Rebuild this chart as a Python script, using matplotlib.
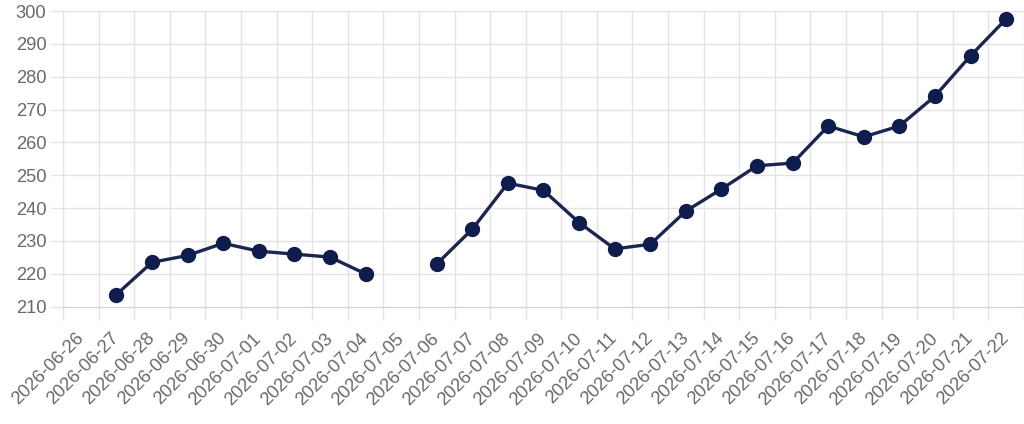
import numpy as np
import matplotlib
matplotlib.use("Agg")
import matplotlib.pyplot as plt

dates = ["2026-06-26", "2026-06-27", "2026-06-28", "2026-06-29", "2026-06-30",
         "2026-07-01", "2026-07-02", "2026-07-03", "2026-07-04", "2026-07-05",
         "2026-07-06", "2026-07-07", "2026-07-08", "2026-07-09", "2026-07-10",
         "2026-07-11", "2026-07-12", "2026-07-13", "2026-07-14", "2026-07-15",
         "2026-07-16", "2026-07-17", "2026-07-18", "2026-07-19", "2026-07-20",
         "2026-07-21", "2026-07-22"]
# None = no value for that day (gap in line)
values = [None, 213.7, 223.5, 225.6, 229.3,
          226.9, 226.0, 225.1, 220.0, None,
          223.0, 233.6, 247.6, 245.4, 235.6,
          227.6, 229.0, 239.1, 245.8, 252.9,
          253.7, 265.0, 261.7, 265.0, 274.1,
          286.4, 297.6]

plt.rcParams["font.family"] = ["Liberation Sans", "DejaVu Sans"]

y = np.array([np.nan if v is None else v for v in values])
x = np.arange(len(dates))

grid_col = "#e3e3e3"
text_col = "#6a6a6a"

fig = plt.figure(figsize=(10.24, 4.24), dpi=100)
ax = fig.add_axes([63 / 1024, 1 - 306.7 / 424, 1 - 63 / 1024, (306.7 - 11) / 424])

ax.plot(x, y, color="#1b2550", linewidth=2.4, marker="o", markersize=10,
        markerfacecolor="#0f1d4d", markeredgecolor="#0f1d4d", zorder=3,
        solid_capstyle="round")

ax.set_xlim(-0.5, len(dates) - 0.5)
ax.set_ylim(210, 300)
ax.set_yticks(np.arange(210, 301, 10))

# category centres carry the labels, boundaries carry the grid lines
ax.set_xticks(x)
ax.set_xticklabels(dates, rotation=45, ha="right", va="center", rotation_mode="anchor")
ax.set_xticks(np.arange(-0.5, len(dates), 1), minor=True)
ax.tick_params(axis="x", which="major", length=0, pad=21, labelsize=13.2, labelcolor=text_col)
ax.tick_params(axis="x", which="minor", length=9.5, width=1, color=grid_col, direction="out")
ax.tick_params(axis="y", length=9, width=1, color=grid_col, pad=3, labelsize=13.2, labelcolor=text_col)

ax.grid(True, axis="x", which="minor", color=grid_col, linewidth=1)
ax.grid(True, axis="y", which="major", color=grid_col, linewidth=1)
ax.grid(False, axis="x", which="major")
for side in ["top", "right"]:
    ax.spines[side].set_visible(False)
ax.spines["left"].set_color(grid_col)
ax.spines["bottom"].set_color("#d6d6d6")
ax.set_axisbelow(True)

fig.savefig("out.png", dpi=100)
